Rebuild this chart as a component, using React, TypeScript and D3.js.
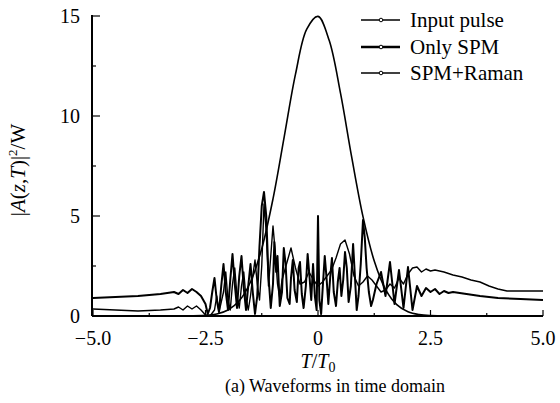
import React from "react";
import * as d3 from "d3";

// Input pulse (T, |A|^2)
const inputT = [-5, -3, -2.5, -2.25, -2, -1.75, -1.5, -1.25, -1, -0.75, -0.5, -0.25, 0, 0.25, 0.5, 0.75, 1, 1.25, 1.5, 1.75, 2, 2.25, 2.5, 3, 5];
const inputV = [0, 0, 0.03, 0.1, 0.3, 0.76, 1.7, 3.37, 5.86, 8.97, 12.09, 14.34, 14.98, 13.77, 11.14, 7.93, 4.97, 2.75, 1.33, 0.57, 0.21, 0.07, 0.02, 0, 0];

// Only SPM
const spmT = [-5, -4.5, -4, -3.5, -3.2, -3.1, -3, -2.9, -2.8, -2.7, -2.6, -2.5, -2.45, -2.4, -2.35, -2.3, -2.25, -2.2, -2.15, -2.1, -2.05, -2, -1.95, -1.9, -1.85, -1.8, -1.75, -1.7, -1.65, -1.6, -1.55, -1.5, -1.45, -1.4, -1.35, -1.3, -1.25, -1.2, -1.15, -1.1,
  -1.05, -1.0, -0.97, -0.93, -0.9, -0.85, -0.8, -0.76, -0.72, -0.68, -0.63, -0.6, -0.56, -0.52, -0.47, -0.43, -0.4, -0.36, -0.32, -0.27, -0.23, -0.19, -0.15, -0.11, -0.07, -0.03, 0, 0.03, 0.07, 0.11, 0.15, 0.19, 0.23, 0.27, 0.31, 0.35, 0.4, 0.44, 0.48, 0.52, 0.56, 0.6, 0.64, 0.68, 0.73, 0.78, 0.82, 0.86, 0.9, 0.95, 1.0, 1.04, 1.08, 1.13, 1.18, 1.22,
  1.3, 1.4, 1.5, 1.6, 1.7, 1.8, 1.9, 2, 2.1, 2.2, 2.3, 2.4, 2.5, 2.6, 2.7, 2.8, 2.9, 3, 3.3, 3.6, 4, 4.5, 5];
const spmV = [0.9, 0.95, 1.0, 1.1, 1.2, 1.1, 1.3, 1.15, 1.35, 1.2, 1.0, 0.6, 0.1, 0.4, 1.2, 1.9, 0.8, 0.2, 1.5, 2.6, 1.2, 0.3, 1.8, 3.1, 1.6, 0.4, 2.0, 3.0, 1.4, 0.3, 1.5, 2.6, 1.2, 0.1, 1.0, 3.5, 5.5, 6.2, 5.0, 2.0,
  0.4, 1.6, 3.7, 2.2, 3.0, 0.5, 1.2, 3.4, 2.6, 0.9, 0.6, 1.9, 2.8, 1.3, 0.7, 2.4, 2.7, 1.1, 0.4, 1.5, 3.1, 2.0, 0.8, 2.6, 1.0, 0.3, 5.0, 0.8, 0.1, 1.6, 3.0, 1.9, 0.6, 1.9, 2.9, 1.2, 0.5, 1.7, 2.4, 1.0, 1.8, 3.2, 2.4, 0.7, 1.5, 3.6, 2.0, 0.3, 1.0, 2.6, 4.8, 3.9, 2.4, 1.2, 0.5, 0.8,
  1.6, 2.2, 1.0, 2.7, 0.6, 2.3, 0.4, 2.45, 0.3, 1.5, 1.0, 1.4, 1.2, 1.35, 1.1, 1.25, 1.15, 1.2, 1.1, 1.0, 0.9, 0.85, 0.8];

// SPM + Raman
const ramanT = [-5, -4.5, -4, -3.5, -3.2, -3.1, -3, -2.9, -2.8, -2.7, -2.6, -2.5, -2.4, -2.3, -2.25, -2.2, -2.1, -2.05, -2, -1.95, -1.9, -1.85, -1.8, -1.75, -1.7, -1.65, -1.6, -1.55, -1.5, -1.45, -1.4, -1.35, -1.3, -1.25, -1.2, -1.15, -1.1, -1.05, -1, -0.95, -0.9, -0.85, -0.8, -0.7, -0.6, -0.5, -0.4, -0.3, -0.2, -0.1, 0, 0.1, 0.2, 0.3, 0.4, 0.5, 0.6, 0.7, 0.8, 0.9, 1, 1.1, 1.2, 1.3, 1.4, 1.5, 1.6, 1.7, 1.8, 1.9, 2, 2.1, 2.2, 2.3, 2.4, 2.5, 2.6, 2.8, 3, 3.2, 3.4, 3.6, 3.8, 4, 4.2, 4.5, 5];
const ramanV = [0.35, 0.3, 0.25, 0.3, 0.35, 0.45, 0.3, 0.5, 0.35, 0.5, 0.3, 0.05, 0.0, 0.3, 1.0, 0.2, 1.2, 2.2, 0.8, 0.3, 1.6, 2.4, 1.0, 0.4, 1.5, 2.2, 0.9, 0.3, 1.0, 2.0, 2.8, 1.6, 0.8, 2.5, 5.6, 4.2, 1.5, 3.0, 4.5, 3.2, 1.6, 0.9, 1.8, 2.6, 3.4, 2.4, 1.6, 1.7, 2.2, 1.8, 1.5, 1.7, 2.0, 2.3, 2.9, 3.6, 3.8, 3.1, 2.0, 1.5, 1.7, 2.0, 1.8, 1.5, 1.2, 1.3, 1.6, 1.4, 1.9, 1.6, 2.1, 2.4, 2.45, 2.2, 2.35, 2.25, 2.3, 2.2, 2.05, 1.95, 1.8, 1.7, 1.5, 1.35, 1.25, 1.25, 1.25];

const xMajor = [-5, -2.5, 0, 2.5, 5];
const xMajorLabels = ["\u22125.0", "\u22122.5", "0", "2.5", "5.0"];
const xMinor = [-3.75, -1.25, 1.25, 3.75];
const yMajor = [0, 5, 10, 15];
const yMinor = [2.5, 7.5, 12.5];

const legendNames = ["Input pulse", "Only SPM", "SPM+Raman"];

const FONT = "'Liberation Serif', 'Times New Roman', serif";

export default function App() {
  const x = d3.scaleLinear().domain([-5, 5]).range([93, 543]);
  const y = d3.scaleLinear().domain([0, 15]).range([316, 16]);
  const x0 = x(-5) - 1;
  const y0 = y(0);

  const mk = (ts: number[], vs: number[], curve: any) =>
    d3
      .line<number>()
      .x((_, i) => x(ts[i]))
      .y((v) => y(v))
      .curve(curve)(vs) as string;

  const inputPath = mk(inputT, inputV, d3.curveCatmullRom);
  const spmPath = mk(spmT, spmV, d3.curveLinear);
  const ramanPath = mk(ramanT, ramanV, d3.curveLinear);

  const legendY = [20, 47, 73];
  const legendW = [1.4, 2.4, 1.4];

  return (
    <svg
      width={560}
      height={403}
      style={{ position: "absolute", left: 0, top: 0, background: "#fff" }}
      fontFamily={FONT}
    >
      <rect x={0} y={0} width={560} height={403} fill="#fff" />
      {/* curves */}
      <path d={inputPath} fill="none" stroke="#000" strokeWidth={1.6} />
      <path d={ramanPath} fill="none" stroke="#000" strokeWidth={1.4} strokeLinejoin="round" />
      <path d={spmPath} fill="none" stroke="#000" strokeWidth={2} strokeLinejoin="round" />

      {/* axes */}
      <line x1={x0} y1={y0} x2={x(5)} y2={y0} stroke="#000" strokeWidth={2} />
      <line x1={x0} y1={y0} x2={x0} y2={y(15) - 1} stroke="#000" strokeWidth={2} />
      {xMajor.map((t) => (
        <line key={"xm" + t} x1={x(t)} x2={x(t)} y1={y0} y2={y0 - 6} stroke="#000" strokeWidth={1.2} />
      ))}
      {xMinor.map((t) => (
        <line key={"xn" + t} x1={x(t)} x2={x(t)} y1={y0} y2={y0 - 3} stroke="#000" strokeWidth={1.2} />
      ))}
      {yMajor.map((v) => (
        <line key={"ym" + v} x1={x0} x2={x0 + 8} y1={y(v)} y2={y(v)} stroke="#000" strokeWidth={1.2} />
      ))}
      {yMinor.map((v) => (
        <line key={"yn" + v} x1={x0} x2={x0 + 4} y1={y(v)} y2={y(v)} stroke="#000" strokeWidth={1.2} />
      ))}
      {xMajor.map((t, i) => (
        <text key={"xl" + t} x={x(t)} y={345} textAnchor="middle" fontSize={20}>
          {xMajorLabels[i]}
        </text>
      ))}
      {yMajor.map((v) => (
        <text key={"yl" + v} x={80} y={y(v) + 7} textAnchor="end" fontSize={20}>
          {v}
        </text>
      ))}

      {/* axis titles */}
      <text x={318} y={368} textAnchor="middle" fontSize={20}>
        <tspan fontStyle="italic">T</tspan>/<tspan fontStyle="italic">T</tspan>
        <tspan fontSize={14} dy={4}>0</tspan>
      </text>
      <text x={335} y={392} textAnchor="middle" fontSize={18}>
        (a) Waveforms in time domain
      </text>
      <text transform="translate(25,170) rotate(-90)" textAnchor="middle" fontSize={21}>
        |<tspan fontStyle="italic">A</tspan>(<tspan fontStyle="italic">z</tspan>,<tspan fontStyle="italic">T</tspan>)|
        <tspan fontSize={13} dy={-8}>2</tspan>
        <tspan dy={8}>/W</tspan>
      </text>

      {/* legend */}
      {legendNames.map((n, i) => (
        <g key={n}>
          <line x1={361} x2={400} y1={legendY[i]} y2={legendY[i]} stroke="#000" strokeWidth={legendW[i]} />
          <circle cx={381} cy={legendY[i]} r={1.8} fill="#fff" stroke="#000" strokeWidth={1} />
          <text x={410} y={legendY[i] + 7} fontSize={21}>
            {n}
          </text>
        </g>
      ))}
    </svg>
  );
}
